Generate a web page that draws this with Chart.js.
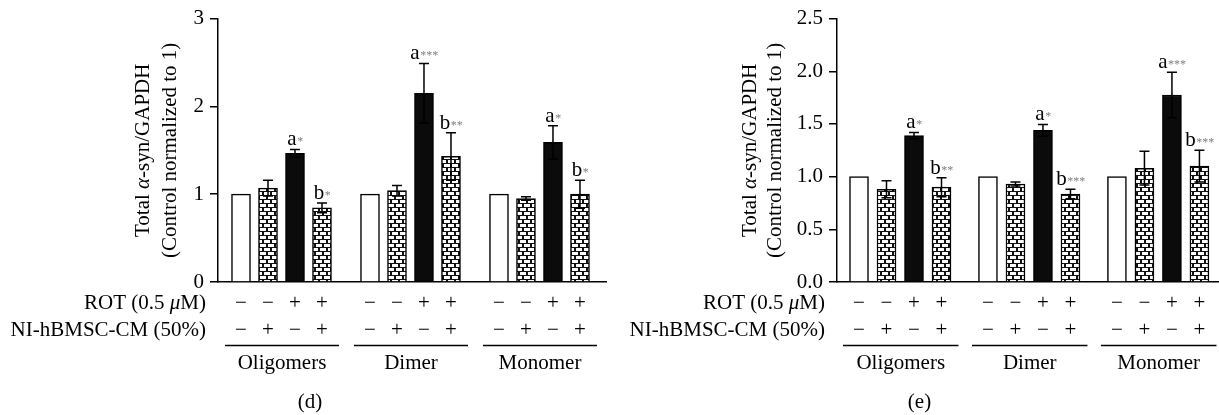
<!DOCTYPE html>
<html>
<head>
<meta charset="utf-8">
<script src="https://cdn.jsdelivr.net/npm/chart.js@4.4.1/dist/chart.umd.min.js"></script>
<style>
  html, body { margin: 0; padding: 0; background: #fff; }
  #wrap { position: relative; width: 1219px; height: 415px; }
  canvas { position: absolute; top: 0; }
</style>
</head>
<body>
<div id="wrap">
  <canvas id="chartD" width="610" height="415" style="left:0"></canvas>
  <canvas id="chartE" width="609" height="415" style="left:610px"></canvas>
</div>
<script>
// ===== DATA =====

const groups = ["Oligomers", "Dimer", "Monomer"];
const conditions = ["Control", "CM", "ROT", "ROT+CM"];
const rotSigns = ["−", "−", "+", "+"];
const cmSigns = ["−", "+", "−", "+"];

// panel (d)
const dControl = [1, 1, 1];
const dCM = [1.07, 1.04, 0.95];
const dROT = [1.465, 2.15, 1.59];
const dROTCM = [0.845, 1.43, 1.0];
const dCMErr = [0.09, 0.06, 0.02];
const dROTErr = [0.045, 0.34, 0.19];
const dROTCMErr = [0.055, 0.27, 0.16];
const dROTMarks = ["a*", "a***", "a*"];
const dROTCMMarks = ["b*", "b**", "b*"];
const dTicks = [0, 1, 2, 3];

// panel (e)
const eControl = [1, 1, 1];
const eCM = [0.88, 0.93, 1.08];
const eROT = [1.39, 1.44, 1.775];
const eROTCM = [0.90, 0.835, 1.10];
const eCMErr = [0.08, 0.02, 0.16];
const eROTErr = [0.03, 0.055, 0.215];
const eROTCMErr = [0.09, 0.045, 0.15];
const eROTMarks = ["a*", "a*", "a***"];
const eROTCMMarks = ["b**", "b***", "b***"];
const eTicks = [0, 0.5, 1, 1.5, 2, 2.5];

// ===== STYLE =====

const FONT = "'Liberation Serif', 'Times New Roman', serif";
const TXT = 21;

function brickPattern() {
    const c = document.createElement("canvas");
    c.width = 8;
    c.height = 8;
    const g = c.getContext("2d");
    g.fillStyle = "#111";
    g.fillRect(0, 0, 8, 8);
    g.fillStyle = "#fff";
    g.fillRect(0, 0, 6, 3);
    g.fillRect(4, 4, 6, 3);
    g.fillRect(-4, 4, 6, 3);
    return g.createPattern(c, "repeat");
}
const bricks = brickPattern();

// draws text made of plain / italic pieces
function richText(ctx, parts, x, y, align, size) {
    let total = 0;
    parts.forEach(p => {
        ctx.font = (p.it ? "italic " : "") + size + "px " + FONT;
        p.w = ctx.measureText(p.t).width;
        total += p.w;
    });
    let cx = align === "right" ? x - total : align === "center" ? x - total / 2 : x;
    ctx.textAlign = "left";
    ctx.textBaseline = "middle";
    parts.forEach(p => {
        ctx.font = (p.it ? "italic " : "") + size + "px " + FONT;
        ctx.fillText(p.t, cx, y);
        cx += p.w;
    });
}

function drawMark(ctx, text, x, yTop) {
    const letter = text[0];
    const stars = text.slice(1);
    ctx.font = TXT + "px " + FONT;
    const lw = ctx.measureText(letter).width;
    ctx.font = "12px " + FONT;
    const sw = ctx.measureText(stars).width;
    const x0 = x - (lw + sw) / 2;
    ctx.textAlign = "left";
    ctx.textBaseline = "alphabetic";
    ctx.fillStyle = "#000";
    ctx.font = TXT + "px " + FONT;
    ctx.fillText(letter, x0, yTop - 4);
    ctx.fillStyle = "#808080";
    ctx.font = "12px " + FONT;
    ctx.fillText(stars, x0 + lw + 0.5, yTop - 4);
}

// ===== PANELS =====

function makePanel(canvasId, p) {
    const series = [p.control, p.cm, p.rot, p.rotcm];
    const errs = [null, p.cmErr, p.rotErr, p.rotcmErr];
    const marks = [null, null, p.rotMarks, p.rotcmMarks];
    const fills = ["#ffffff", bricks, "#0b0b0b", bricks];
    const pos = (g, i) => g * p.groupGap + i;

    const extras = {
        id: "extras",
        afterDatasetsDraw(chart) {
            const ctx = chart.ctx;
            const xs = chart.scales.x, ys = chart.scales.y;
            ctx.save();
            ctx.strokeStyle = "#000";
            ctx.lineWidth = 1.5;
            series.forEach((vals, i) => {
                vals.forEach((v, g) => {
                    const x = xs.getPixelForValue(pos(g, i));
                    let top = ys.getPixelForValue(v);
                    if (errs[i]) {
                        const e = errs[i][g];
                        top = ys.getPixelForValue(v + e);
                        const bot = ys.getPixelForValue(v - e);
                        ctx.beginPath();
                        ctx.moveTo(x, bot); ctx.lineTo(x, top);
                        ctx.moveTo(x - 5, top); ctx.lineTo(x + 5, top);
                        ctx.moveTo(x - 5, bot); ctx.lineTo(x + 5, bot);
                        ctx.stroke();
                    }
                    if (marks[i]) drawMark(ctx, marks[i][g], x, top);
                });
            });
            ctx.restore();
        },
        afterDraw(chart) {
            const ctx = chart.ctx;
            const xs = chart.scales.x;
            const area = chart.chartArea;
            ctx.save();
            ctx.fillStyle = "#000";

            // y axis title
            const midY = (area.top + area.bottom) / 2;
            ctx.save();
            ctx.translate(area.left + p.title1Dx, midY);
            ctx.rotate(-Math.PI / 2);
            richText(ctx, [{t: "Total "}, {t: "α", it: true}, {t: "-syn/GAPDH"}], 0, 0, "center", TXT);
            ctx.restore();
            ctx.save();
            ctx.translate(area.left + p.title2Dx, midY);
            ctx.rotate(-Math.PI / 2);
            richText(ctx, [{t: "(Control normalized to 1)"}], 0, 0, "center", TXT);
            ctx.restore();

            // treatment rows
            const labelX = area.left - 12;
            richText(ctx, [{t: "ROT (0.5 "}, {t: "μ", it: true}, {t: "M)"}], labelX, 303, "right", TXT);
            richText(ctx, [{t: "NI-hBMSC-CM (50%)"}], labelX, 330, "right", TXT);
            groups.forEach((name, g) => {
                for (let i = 0; i < 4; i++) {
                    const x = xs.getPixelForValue(pos(g, i));
                    richText(ctx, [{t: rotSigns[i]}], x, 303, "center", TXT);
                    richText(ctx, [{t: cmSigns[i]}], x, 330, "center", TXT);
                }
                const x0 = xs.getPixelForValue(pos(g, 0)) - 16;
                const x1 = xs.getPixelForValue(pos(g, 3)) + 17;
                ctx.strokeStyle = "#000";
                ctx.lineWidth = 1.3;
                ctx.beginPath();
                ctx.moveTo(x0, 345.5); ctx.lineTo(x1, 345.5);
                ctx.stroke();
                richText(ctx, [{t: name}], (x0 + x1) / 2, 363, "center", TXT);
            });

            // panel letter
            richText(ctx, [{t: p.letter}], chart.width / 2 + 5, 402, "center", TXT);
            ctx.restore();
        }
    };

    return new Chart(document.getElementById(canvasId), {
        type: "bar",
        data: {
            datasets: series.map((vals, i) => ({
                label: conditions[i],
                data: vals.map((v, g) => ({x: pos(g, i), y: v})),
                backgroundColor: fills[i],
                borderColor: "#000",
                borderWidth: 1.5,
                barThickness: 19,
                grouped: false
            }))
        },
        options: {
            responsive: false,
            animation: false,
            events: [],
            layout: {padding: {left: 0, right: p.padRight, top: 16, bottom: 133}},
            plugins: {legend: {display: false}, tooltip: {enabled: false}},
            scales: {
                x: {
                    type: "linear",
                    offset: false,
                    min: p.xMin,
                    max: p.xMax,
                    grid: {display: false, offset: false},
                    ticks: {display: false},
                    border: {color: "#000", width: 1.5},
                    afterFit: s => { s.height = 0; }
                },
                y: {
                    min: 0,
                    max: p.ticks[p.ticks.length - 1],
                    afterFit: s => { s.width = p.axisLeft; },
                    afterBuildTicks: s => { s.ticks = p.ticks.map(v => ({value: v})); },
                    grid: {drawOnChartArea: false, drawTicks: true, tickLength: 8, color: "#000", lineWidth: 1.5},
                    border: {color: "#000", width: 1.5},
                    ticks: {
                        color: "#000",
                        padding: 6,
                        font: {family: FONT, size: TXT},
                        callback: v => v.toFixed(p.decimals)
                    }
                }
            }
        },
        plugins: [extras]
    });
}

makePanel("chartD", {
    control: dControl, cm: dCM, rot: dROT, rotcm: dROTCM,
    cmErr: dCMErr, rotErr: dROTErr, rotcmErr: dROTCMErr,
    rotMarks: dROTMarks, rotcmMarks: dROTCMMarks,
    ticks: dTicks, decimals: 0, letter: "(d)",
    axisLeft: 218, padRight: 4, xMin: -0.852, xMax: 13.52, groupGap: 4.778,
    title1Dx: -75, title2Dx: -48
});

makePanel("chartE", {
    control: eControl, cm: eCM, rot: eROT, rotcm: eROTCM,
    cmErr: eCMErr, rotErr: eROTErr, rotcmErr: eROTCMErr,
    rotMarks: eROTMarks, rotcmMarks: eROTCMMarks,
    ticks: eTicks, decimals: 1, letter: "(e)",
    axisLeft: 227, padRight: 1, xMin: -0.8, xMax: 13.055, groupGap: 4.69,
    title1Dx: -87, title2Dx: -62
});
</script>
</body>
</html>
